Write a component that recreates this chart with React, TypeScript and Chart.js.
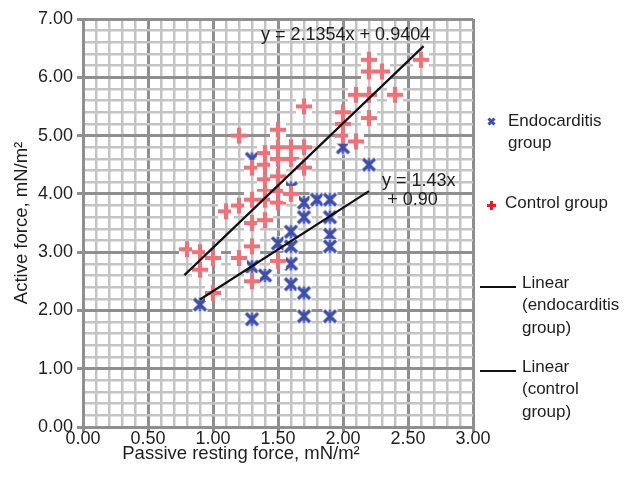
import React, { useEffect, useRef } from "react";
import { Chart, registerables } from "chart.js";

Chart.register(...registerables);

// ---- data ----
const endoX = [0.9, 1.3, 1.3, 1.3, 1.4, 1.5, 1.6, 1.6, 1.6, 1.6, 1.6, 1.7, 1.7, 1.7, 1.7, 1.8, 1.9, 1.9, 1.9, 1.9, 1.9, 2.0, 2.2];
const endoY = [2.1, 1.85, 2.75, 4.6, 2.6, 3.15, 4.1, 3.35, 3.1, 2.8, 2.45, 3.85, 3.6, 2.3, 1.9, 3.9, 3.9, 3.6, 3.3, 3.1, 1.9, 4.8, 4.5];

const controlX = [0.8, 0.9, 0.9, 1.0, 1.0, 1.1, 1.2, 1.2, 1.2, 1.3, 1.3, 1.3, 1.3, 1.3, 1.4, 1.4, 1.4, 1.4, 1.4, 1.4, 1.5, 1.5, 1.5, 1.5, 1.5, 1.5, 1.5, 1.6, 1.6, 1.6, 1.7, 1.7, 1.7, 2.0, 2.0, 2.0, 2.1, 2.1, 2.2, 2.2, 2.2, 2.2, 2.3, 2.4, 2.6];
const controlY = [3.05, 3.0, 2.7, 2.9, 2.3, 3.7, 3.8, 5.0, 2.9, 4.45, 3.9, 3.5, 3.1, 2.5, 4.7, 4.5, 4.25, 4.05, 3.9, 3.55, 5.1, 4.8, 4.6, 4.3, 4.05, 3.85, 2.85, 4.8, 4.6, 4.0, 4.8, 4.45, 5.5, 5.4, 5.2, 5.0, 5.7, 4.9, 6.3, 6.1, 5.7, 5.3, 6.1, 5.7, 6.3];

// trend lines (equations printed on the chart) and their x extents
const endoFit = { slope: 1.43, intercept: 0.9 };
const endoFitX = [0.9, 2.2];
const controlFit = { slope: 2.1354, intercept: 0.9404 };
const controlFitX = [0.78, 2.62];

const seriesLabels = ["Endocarditis group", "Control group", "Linear (endocarditis group)", "Linear (control group)"];
const eqControl = "y = 2.1354x + 0.9404";
const eqEndo1 = "y = 1.43x";
const eqEndo2 = "+ 0.90";
const xTitle = "Passive resting force, mN/m\u00b2";
const yTitle = "Active force, mN/m\u00b2";

const FONT = '"Liberation Sans", Arial, Helvetica, sans-serif';
const TEXT = "#1e1e1e";
const MAJOR = "#8f8f8f";
const MINOR = "#c4c4c4";
const RED = "rgb(243,112,120)";
const BLUE = "rgb(62,78,170)";

function makePlus(size: number, color: string, lw: number, bg: boolean) {
  const c = document.createElement("canvas");
  c.width = size;
  c.height = size;
  const g = c.getContext("2d")!;
  if (bg) {
    g.fillStyle = "#ffffff";
    g.fillRect(1, 1, size - 2, size - 2);
  }
  g.strokeStyle = color;
  g.lineWidth = lw;
  g.beginPath();
  g.moveTo(size / 2, 1);
  g.lineTo(size / 2, size - 1);
  g.moveTo(1, size / 2);
  g.lineTo(size - 1, size / 2);
  g.stroke();
  return c;
}

function makeStar(size: number, color: string, lw: number, bg: boolean, stem: boolean) {
  const c = document.createElement("canvas");
  c.width = size;
  c.height = size;
  const g = c.getContext("2d")!;
  if (bg) {
    g.fillStyle = "#ffffff";
    g.fillRect(1, 1, size - 2, size - 2);
  }
  g.strokeStyle = color;
  g.lineWidth = lw;
  const p = 2.5;
  g.beginPath();
  g.moveTo(p, p);
  g.lineTo(size - p, size - p);
  g.moveTo(size - p, p);
  g.lineTo(p, size - p);
  g.stroke();
  if (stem) {
    g.lineWidth = 2.4;
    g.beginPath();
    g.moveTo(size / 2, 1.5);
    g.lineTo(size / 2, size - 1.5);
    g.stroke();
  }
  return c;
}

export default function App() {
  const ref = useRef<HTMLCanvasElement | null>(null);

  useEffect(() => {
    if (!ref.current) return;
    const plusImg = makePlus(18, RED, 4, true);
    const starImg = makeStar(17, BLUE, 3.4, true, true);
    const legPlus = makePlus(11, "rgb(230,30,40)", 3, false);
    const legStar = makeStar(11, BLUE, 3, false, false);

    const isMajorX = (v: number) => Math.abs(v * 2 - Math.round(v * 2)) < 1e-6;
    const isMajorY = (v: number) => Math.abs(v - Math.round(v)) < 1e-6;

    const overlay = {
      id: "overlay",
      afterDraw(chart: any) {
        const g = chart.ctx as CanvasRenderingContext2D;
        const xs = chart.scales.x;
        const ys = chart.scales.y;
        const ca = chart.chartArea;
        g.save();
        g.fillStyle = TEXT;
        g.textBaseline = "middle";

        // equations
        g.font = `18px ${FONT}`;
        g.textAlign = "center";
        g.fillText(eqControl, xs.getPixelForValue(2.02), ys.getPixelForValue(6.72));
        g.textAlign = "left";
        g.fillText(eqEndo1, xs.getPixelForValue(2.3), ys.getPixelForValue(4.22));
        g.fillText(eqEndo2, xs.getPixelForValue(2.34), ys.getPixelForValue(3.89));

        // axis titles
        g.font = `18.5px ${FONT}`;
        g.textAlign = "center";
        g.fillText(xTitle, ca.left + 158, 454);
        g.save();
        g.translate(22, (ca.top + ca.bottom) / 2);
        g.rotate(-Math.PI / 2);
        g.fillText(yTitle, 0, 0);
        g.restore();

        // legend
        const lx = ca.right + 8;
        g.font = `17px ${FONT}`;
        g.textAlign = "left";
        g.drawImage(legStar, lx + 5, 116);
        g.fillText("Endocarditis", lx + 27, 121);
        g.fillText("group", lx + 27, 143);
        g.drawImage(legPlus, lx + 5, 200);
        g.fillText("Control group", lx + 24, 203);
        g.strokeStyle = "#111";
        g.lineWidth = 2;
        g.beginPath();
        g.moveTo(lx - 1, 287);
        g.lineTo(lx + 35, 287);
        g.moveTo(lx - 1, 371);
        g.lineTo(lx + 35, 371);
        g.stroke();
        g.fillText("Linear", lx + 41, 283);
        g.fillText("(endocarditis", lx + 41, 305);
        g.fillText("group)", lx + 41, 328);
        g.fillText("Linear", lx + 41, 367);
        g.fillText("(control", lx + 41, 389);
        g.fillText("group)", lx + 41, 412);
        g.restore();
      },
    };

    const chart = new Chart(ref.current, {
      type: "scatter",
      data: {
        datasets: [
          {
            label: seriesLabels[2],
            data: endoFitX.map((x) => ({ x, y: endoFit.slope * x + endoFit.intercept })),
            showLine: true,
            borderColor: "#111111",
            borderWidth: 2.2,
            pointRadius: 0,
            order: 0,
          },
          {
            label: seriesLabels[3],
            data: controlFitX.map((x) => ({ x, y: controlFit.slope * x + controlFit.intercept })),
            showLine: true,
            borderColor: "#111111",
            borderWidth: 2.2,
            pointRadius: 0,
            order: 0,
          },
          {
            label: seriesLabels[1],
            data: controlX.map((x, i) => ({ x, y: controlY[i] })),
            pointStyle: plusImg as any,
            pointRadius: 9,
            order: 1,
          },
          {
            label: seriesLabels[0],
            data: endoX.map((x, i) => ({ x, y: endoY[i] })),
            pointStyle: starImg as any,
            pointRadius: 9,
            order: 2,
          },
        ],
      },
      options: {
        responsive: false,
        animation: false,
        events: [],
        layout: { padding: { left: 0, top: 19, right: 158, bottom: 0 } },
        plugins: { legend: { display: false }, tooltip: { enabled: false } },
        scales: {
          x: {
            type: "linear",
            min: 0,
            max: 3,
            afterFit: (s: any) => {
              s.height = 61;
            },
            ticks: {
              stepSize: 0.1,
              autoSkip: false,
              maxRotation: 0,
              padding: -4,
              color: TEXT,
              font: { family: FONT, size: 18 },
              callback: (v: any) => (isMajorX(Number(v)) ? Number(v).toFixed(2) : ""),
            },
            grid: {
              color: (c: any) => (isMajorX(c.tick.value) ? MAJOR : MINOR),
              lineWidth: (c: any) => (isMajorX(c.tick.value) ? 3 : 2.5),
              tickColor: (c: any) => (isMajorX(c.tick.value) ? MAJOR : "rgba(0,0,0,0)"),
              tickLength: 5,
              drawTicks: true,
            },
            border: { color: MAJOR, width: 3 },
          },
          y: {
            type: "linear",
            min: 0,
            max: 7,
            afterFit: (s: any) => {
              s.width = 83;
            },
            ticks: {
              stepSize: 0.2,
              autoSkip: false,
              padding: 4,
              color: TEXT,
              font: { family: FONT, size: 18 },
              callback: (v: any) => (isMajorY(Number(v)) ? Number(v).toFixed(2) : ""),
            },
            grid: {
              color: (c: any) => (isMajorY(c.tick.value) ? MAJOR : MINOR),
              lineWidth: (c: any) => (isMajorY(c.tick.value) ? 3 : 2.5),
              tickColor: (c: any) => (isMajorY(c.tick.value) ? MAJOR : "rgba(0,0,0,0)"),
              tickLength: 6,
              drawTicks: true,
            },
            border: { color: MAJOR, width: 3 },
          },
        },
      },
      plugins: [overlay],
    } as any);
    return () => chart.destroy();
  }, []);

  return (
    <div style={{ position: "fixed", left: 0, top: 0, width: 631, height: 488, background: "#fff" }}>
      <canvas ref={ref} width={631} height={488} style={{ width: 631, height: 488, display: "block" }} />
    </div>
  );
}
